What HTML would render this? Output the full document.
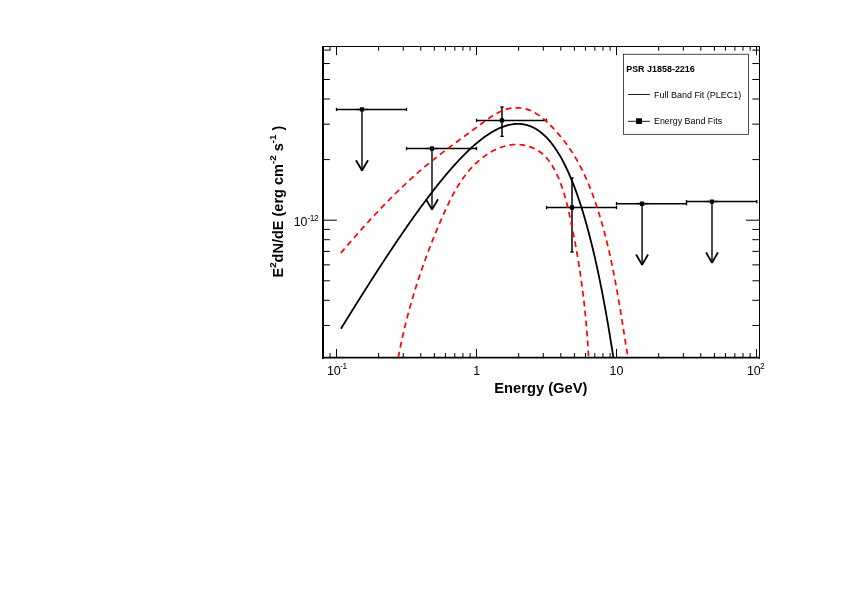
<!DOCTYPE html>
<html><head><meta charset="utf-8"><title>PSR J1858-2216</title>
<style>html,body{margin:0;padding:0;background:#fff}svg{display:block}text{font-family:"Liberation Sans",sans-serif;fill:#000}</style></head><body>
<svg width="842" height="595" viewBox="0 0 842 595">
<rect width="842" height="595" fill="#fff"/>
<defs><clipPath id="c"><rect x="324" y="47" width="435" height="310"/></clipPath></defs>
<g stroke="#000" fill="none" shape-rendering="crispEdges">
<line x1="322" y1="46.5" x2="760" y2="46.5" stroke-width="1"/>
<line x1="759.5" y1="46" x2="759.5" y2="358.6" stroke-width="1"/>
<line x1="323" y1="46" x2="323" y2="358.6" stroke-width="2"/>
</g>
<line x1="322" y1="357.7" x2="760" y2="357.7" stroke="#000" stroke-width="1.8"/>
<g stroke="#000" stroke-width="1" fill="none">
<line x1="330.06" y1="357" x2="330.06" y2="353"/>
<line x1="330.06" y1="47" x2="330.06" y2="50.7"/>
<line x1="336.47" y1="357" x2="336.47" y2="348.9"/>
<line x1="336.47" y1="47" x2="336.47" y2="55.2"/>
<line x1="378.62" y1="357" x2="378.62" y2="353"/>
<line x1="378.62" y1="47" x2="378.62" y2="50.7"/>
<line x1="403.28" y1="357" x2="403.28" y2="353"/>
<line x1="403.28" y1="47" x2="403.28" y2="50.7"/>
<line x1="420.78" y1="357" x2="420.78" y2="353"/>
<line x1="420.78" y1="47" x2="420.78" y2="50.7"/>
<line x1="434.35" y1="357" x2="434.35" y2="353"/>
<line x1="434.35" y1="47" x2="434.35" y2="50.7"/>
<line x1="445.43" y1="357" x2="445.43" y2="353"/>
<line x1="445.43" y1="47" x2="445.43" y2="50.7"/>
<line x1="454.81" y1="357" x2="454.81" y2="353"/>
<line x1="454.81" y1="47" x2="454.81" y2="50.7"/>
<line x1="462.93" y1="357" x2="462.93" y2="353"/>
<line x1="462.93" y1="47" x2="462.93" y2="50.7"/>
<line x1="470.09" y1="357" x2="470.09" y2="353"/>
<line x1="470.09" y1="47" x2="470.09" y2="50.7"/>
<line x1="476.50" y1="357" x2="476.50" y2="348.9"/>
<line x1="476.50" y1="47" x2="476.50" y2="55.2"/>
<line x1="518.65" y1="357" x2="518.65" y2="353"/>
<line x1="518.65" y1="47" x2="518.65" y2="50.7"/>
<line x1="543.31" y1="357" x2="543.31" y2="353"/>
<line x1="543.31" y1="47" x2="543.31" y2="50.7"/>
<line x1="560.81" y1="357" x2="560.81" y2="353"/>
<line x1="560.81" y1="47" x2="560.81" y2="50.7"/>
<line x1="574.38" y1="357" x2="574.38" y2="353"/>
<line x1="574.38" y1="47" x2="574.38" y2="50.7"/>
<line x1="585.46" y1="357" x2="585.46" y2="353"/>
<line x1="585.46" y1="47" x2="585.46" y2="50.7"/>
<line x1="594.84" y1="357" x2="594.84" y2="353"/>
<line x1="594.84" y1="47" x2="594.84" y2="50.7"/>
<line x1="602.96" y1="357" x2="602.96" y2="353"/>
<line x1="602.96" y1="47" x2="602.96" y2="50.7"/>
<line x1="610.12" y1="357" x2="610.12" y2="353"/>
<line x1="610.12" y1="47" x2="610.12" y2="50.7"/>
<line x1="616.53" y1="357" x2="616.53" y2="348.9"/>
<line x1="616.53" y1="47" x2="616.53" y2="55.2"/>
<line x1="658.68" y1="357" x2="658.68" y2="353"/>
<line x1="658.68" y1="47" x2="658.68" y2="50.7"/>
<line x1="683.34" y1="357" x2="683.34" y2="353"/>
<line x1="683.34" y1="47" x2="683.34" y2="50.7"/>
<line x1="700.84" y1="357" x2="700.84" y2="353"/>
<line x1="700.84" y1="47" x2="700.84" y2="50.7"/>
<line x1="714.41" y1="357" x2="714.41" y2="353"/>
<line x1="714.41" y1="47" x2="714.41" y2="50.7"/>
<line x1="725.49" y1="357" x2="725.49" y2="353"/>
<line x1="725.49" y1="47" x2="725.49" y2="50.7"/>
<line x1="734.87" y1="357" x2="734.87" y2="353"/>
<line x1="734.87" y1="47" x2="734.87" y2="50.7"/>
<line x1="742.99" y1="357" x2="742.99" y2="353"/>
<line x1="742.99" y1="47" x2="742.99" y2="50.7"/>
<line x1="750.15" y1="357" x2="750.15" y2="353"/>
<line x1="750.15" y1="47" x2="750.15" y2="50.7"/>
<line x1="756.56" y1="357" x2="756.56" y2="348.9"/>
<line x1="756.56" y1="47" x2="756.56" y2="55.2"/>
<line x1="324" y1="325.46" x2="329.9" y2="325.46"/>
<line x1="759" y1="325.46" x2="752.3" y2="325.46"/>
<line x1="324" y1="300.31" x2="329.9" y2="300.31"/>
<line x1="759" y1="300.31" x2="752.3" y2="300.31"/>
<line x1="324" y1="280.80" x2="329.9" y2="280.80"/>
<line x1="759" y1="280.80" x2="752.3" y2="280.80"/>
<line x1="324" y1="264.86" x2="329.9" y2="264.86"/>
<line x1="759" y1="264.86" x2="752.3" y2="264.86"/>
<line x1="324" y1="251.38" x2="329.9" y2="251.38"/>
<line x1="759" y1="251.38" x2="752.3" y2="251.38"/>
<line x1="324" y1="239.71" x2="329.9" y2="239.71"/>
<line x1="759" y1="239.71" x2="752.3" y2="239.71"/>
<line x1="324" y1="229.41" x2="329.9" y2="229.41"/>
<line x1="759" y1="229.41" x2="752.3" y2="229.41"/>
<line x1="324" y1="220.20" x2="336.8" y2="220.20"/>
<line x1="759" y1="220.20" x2="746" y2="220.20"/>
<line x1="324" y1="159.60" x2="329.9" y2="159.60"/>
<line x1="759" y1="159.60" x2="752.3" y2="159.60"/>
<line x1="324" y1="124.16" x2="329.9" y2="124.16"/>
<line x1="759" y1="124.16" x2="752.3" y2="124.16"/>
<line x1="324" y1="99.01" x2="329.9" y2="99.01"/>
<line x1="759" y1="99.01" x2="752.3" y2="99.01"/>
<line x1="324" y1="79.50" x2="329.9" y2="79.50"/>
<line x1="759" y1="79.50" x2="752.3" y2="79.50"/>
<line x1="324" y1="63.56" x2="329.9" y2="63.56"/>
<line x1="759" y1="63.56" x2="752.3" y2="63.56"/>
<line x1="324" y1="50.08" x2="329.9" y2="50.08"/>
<line x1="759" y1="50.08" x2="752.3" y2="50.08"/>
</g>
<g stroke="#000" fill="none">
<line x1="336.5" y1="109.4" x2="406.5" y2="109.4" stroke-width="1.5"/>
<line x1="336.5" y1="107.7" x2="336.5" y2="111.10000000000001" stroke-width="1.3"/>
<line x1="406.5" y1="107.7" x2="406.5" y2="111.10000000000001" stroke-width="1.3"/>
<line x1="356.0" y1="109.4" x2="368.0" y2="109.4" stroke-width="2.6" stroke-opacity="0.22"/>
<line x1="362.0" y1="109.4" x2="362.0" y2="170.8" stroke-width="1.4"/>
<path d="M356.0,160.20000000000002 L362.0,170.5 L368.0,160.20000000000002" stroke-width="1.8" stroke-linejoin="bevel"/>
<rect x="359.85" y="107.20" width="4.3" height="4.4" rx="0.7" fill="#000" stroke="none"/>
<line x1="406.5" y1="148.5" x2="476.5" y2="148.5" stroke-width="1.5"/>
<line x1="406.5" y1="146.8" x2="406.5" y2="150.2" stroke-width="1.3"/>
<line x1="476.5" y1="146.8" x2="476.5" y2="150.2" stroke-width="1.3"/>
<line x1="426.0" y1="148.5" x2="438.0" y2="148.5" stroke-width="2.6" stroke-opacity="0.22"/>
<line x1="432.0" y1="148.5" x2="432.0" y2="209.9" stroke-width="1.4"/>
<path d="M426.0,199.3 L432.0,209.6 L438.0,199.3" stroke-width="1.8" stroke-linejoin="bevel"/>
<rect x="429.85" y="146.30" width="4.3" height="4.4" rx="0.7" fill="#000" stroke="none"/>
<line x1="476.5" y1="120.4" x2="546.5" y2="120.4" stroke-width="1.5"/>
<line x1="476.5" y1="118.7" x2="476.5" y2="122.10000000000001" stroke-width="1.3"/>
<line x1="546.5" y1="118.7" x2="546.5" y2="122.10000000000001" stroke-width="1.3"/>
<line x1="502.0" y1="106.9" x2="502.0" y2="136.4" stroke-width="1.5"/>
<line x1="500.3" y1="106.9" x2="503.7" y2="106.9" stroke-width="1.3"/>
<line x1="500.3" y1="136.4" x2="503.7" y2="136.4" stroke-width="1.3"/>
<rect x="499.85" y="118.20" width="4.3" height="4.4" rx="0.7" fill="#000" stroke="none"/>
<line x1="546.5" y1="207.5" x2="616.5" y2="207.5" stroke-width="1.5"/>
<line x1="546.5" y1="205.8" x2="546.5" y2="209.2" stroke-width="1.3"/>
<line x1="616.5" y1="205.8" x2="616.5" y2="209.2" stroke-width="1.3"/>
<line x1="572.0" y1="177.9" x2="572.0" y2="252.0" stroke-width="1.5"/>
<line x1="570.3" y1="177.9" x2="573.7" y2="177.9" stroke-width="1.3"/>
<line x1="570.3" y1="252.0" x2="573.7" y2="252.0" stroke-width="1.3"/>
<rect x="569.85" y="205.30" width="4.3" height="4.4" rx="0.7" fill="#000" stroke="none"/>
<line x1="616.5" y1="203.7" x2="686.5" y2="203.7" stroke-width="1.5"/>
<line x1="616.5" y1="202.0" x2="616.5" y2="205.39999999999998" stroke-width="1.3"/>
<line x1="686.5" y1="202.0" x2="686.5" y2="205.39999999999998" stroke-width="1.3"/>
<line x1="636.1" y1="203.7" x2="648.1" y2="203.7" stroke-width="2.6" stroke-opacity="0.22"/>
<line x1="642.1" y1="203.7" x2="642.1" y2="265.09999999999997" stroke-width="1.4"/>
<path d="M636.1,254.49999999999997 L642.1,264.79999999999995 L648.1,254.49999999999997" stroke-width="1.8" stroke-linejoin="bevel"/>
<rect x="639.95" y="201.50" width="4.3" height="4.4" rx="0.7" fill="#000" stroke="none"/>
<line x1="686.5" y1="201.6" x2="756.8" y2="201.6" stroke-width="1.5"/>
<line x1="686.5" y1="199.9" x2="686.5" y2="203.29999999999998" stroke-width="1.3"/>
<line x1="756.8" y1="199.9" x2="756.8" y2="203.29999999999998" stroke-width="1.3"/>
<line x1="706.0" y1="201.6" x2="718.0" y2="201.6" stroke-width="2.6" stroke-opacity="0.22"/>
<line x1="712.0" y1="201.6" x2="712.0" y2="263.0" stroke-width="1.4"/>
<path d="M706.0,252.4 L712.0,262.7 L718.0,252.4" stroke-width="1.8" stroke-linejoin="bevel"/>
<rect x="709.85" y="199.40" width="4.3" height="4.4" rx="0.7" fill="#000" stroke="none"/>
</g>
<g clip-path="url(#c)" fill="none">
<path d="M340.92,328.72 L341.67,327.51 L342.41,326.31 L343.15,325.11 L343.89,323.91 L344.63,322.71 L345.38,321.51 L346.12,320.31 L346.86,319.12 L347.60,317.92 L348.34,316.72 L349.09,315.53 L349.83,314.34 L350.57,313.14 L351.31,311.95 L352.06,310.76 L352.80,309.57 L353.54,308.39 L354.28,307.20 L355.02,306.01 L355.77,304.83 L356.51,303.64 L357.25,302.46 L357.99,301.28 L358.73,300.10 L359.48,298.92 L360.22,297.74 L360.96,296.56 L361.70,295.39 L362.44,294.21 L363.19,293.04 L363.93,291.87 L364.67,290.70 L365.41,289.53 L366.15,288.36 L366.90,287.19 L367.64,286.03 L368.38,284.86 L369.12,283.70 L369.86,282.54 L370.61,281.38 L371.35,280.22 L372.09,279.06 L372.83,277.90 L373.57,276.75 L374.32,275.59 L375.06,274.44 L375.80,273.29 L376.54,272.14 L377.28,270.99 L378.03,269.85 L378.77,268.70 L379.51,267.56 L380.25,266.42 L380.99,265.28 L381.74,264.14 L382.48,263.01 L383.22,261.87 L383.96,260.74 L384.70,259.61 L385.45,258.48 L386.19,257.35 L386.93,256.22 L387.67,255.10 L388.41,253.98 L389.16,252.86 L389.90,251.74 L390.64,250.62 L391.38,249.51 L392.12,248.39 L392.87,247.28 L393.61,246.17 L394.35,245.07 L395.09,243.96 L395.83,242.86 L396.58,241.76 L397.32,240.66 L398.06,239.56 L398.80,238.47 L399.54,237.38 L400.29,236.29 L401.03,235.20 L401.77,234.11 L402.51,233.03 L403.25,231.95 L404.00,230.87 L404.74,229.80 L405.48,228.72 L406.22,227.65 L406.96,226.58 L407.71,225.52 L408.45,224.45 L409.19,223.39 L409.93,222.33 L410.67,221.28 L411.42,220.22 L412.16,219.17 L412.90,218.13 L413.64,217.08 L414.39,216.04 L415.13,215.00 L415.87,213.96 L416.61,212.93 L417.35,211.90 L418.10,210.87 L418.84,209.85 L419.58,208.83 L420.32,207.81 L421.06,206.79 L421.81,205.78 L422.55,204.77 L423.29,203.76 L424.03,202.76 L424.77,201.76 L425.52,200.77 L426.26,199.78 L427.00,198.79 L427.74,197.80 L428.48,196.82 L429.23,195.84 L429.97,194.87 L430.71,193.90 L431.45,192.93 L432.19,191.96 L432.94,191.00 L433.68,190.05 L434.42,189.10 L435.16,188.15 L435.90,187.20 L436.65,186.26 L437.39,185.33 L438.13,184.40 L438.87,183.47 L439.61,182.55 L440.36,181.63 L441.10,180.71 L441.84,179.80 L442.58,178.90 L443.32,177.99 L444.07,177.10 L444.81,176.20 L445.55,175.32 L446.29,174.43 L447.03,173.56 L447.78,172.68 L448.52,171.82 L449.26,170.95 L450.00,170.09 L450.74,169.24 L451.49,168.39 L452.23,167.55 L452.97,166.71 L453.71,165.88 L454.45,165.05 L455.20,164.23 L455.94,163.42 L456.68,162.61 L457.42,161.80 L458.16,161.00 L458.91,160.21 L459.65,159.42 L460.39,158.64 L461.13,157.87 L461.87,157.10 L462.62,156.34 L463.36,155.58 L464.10,154.83 L464.84,154.09 L465.58,153.35 L466.33,152.62 L467.07,151.89 L467.81,151.18 L468.55,150.47 L469.29,149.76 L470.04,149.07 L470.78,148.38 L471.52,147.69 L472.26,147.02 L473.00,146.35 L473.75,145.69 L474.49,145.04 L475.23,144.39 L475.97,143.76 L476.72,143.13 L477.46,142.51 L478.20,141.89 L478.94,141.29 L479.68,140.69 L480.43,140.10 L481.17,139.52 L481.91,138.95 L482.65,138.38 L483.39,137.83 L484.14,137.28 L484.88,136.75 L485.62,136.22 L486.36,135.70 L487.10,135.19 L487.85,134.69 L488.59,134.20 L489.33,133.72 L490.07,133.25 L490.81,132.78 L491.56,132.33 L492.30,131.89 L493.04,131.46 L493.78,131.04 L494.52,130.63 L495.27,130.23 L496.01,129.84 L496.75,129.46 L497.49,129.09 L498.23,128.74 L498.98,128.39 L499.72,128.06 L500.46,127.73 L501.20,127.42 L501.94,127.13 L502.69,126.84 L503.43,126.56 L504.17,126.30 L504.91,126.05 L505.65,125.81 L506.40,125.59 L507.14,125.38 L507.88,125.18 L508.62,124.99 L509.36,124.82 L510.11,124.66 L510.85,124.52 L511.59,124.39 L512.33,124.27 L513.07,124.17 L513.82,124.08 L514.56,124.00 L515.30,123.94 L516.04,123.90 L516.78,123.87 L517.53,123.86 L518.27,123.86 L519.01,123.87 L519.75,123.91 L520.49,123.96 L521.24,124.02 L521.98,124.10 L522.72,124.20 L523.46,124.31 L524.20,124.45 L524.95,124.60 L525.69,124.76 L526.43,124.95 L527.17,125.15 L527.91,125.37 L528.66,125.61 L529.40,125.87 L530.14,126.14 L530.88,126.44 L531.62,126.75 L532.37,127.08 L533.11,127.44 L533.85,127.81 L534.59,128.21 L535.34,128.62 L536.08,129.05 L536.82,129.51 L537.56,129.99 L538.30,130.49 L539.05,131.01 L539.79,131.55 L540.53,132.11 L541.27,132.70 L542.01,133.31 L542.76,133.94 L543.50,134.60 L544.24,135.28 L544.98,135.98 L545.72,136.71 L546.47,137.47 L547.21,138.24 L547.95,139.05 L548.69,139.87 L549.43,140.73 L550.18,141.61 L550.92,142.52 L551.66,143.45 L552.40,144.41 L553.14,145.40 L553.89,146.41 L554.63,147.46 L555.37,148.53 L556.11,149.63 L556.85,150.76 L557.60,151.92 L558.34,153.11 L559.08,154.33 L559.82,155.58 L560.56,156.86 L561.31,158.18 L562.05,159.52 L562.79,160.90 L563.53,162.31 L564.27,163.75 L565.02,165.23 L565.76,166.74 L566.50,168.28 L567.24,169.86 L567.98,171.47 L568.73,173.12 L569.47,174.80 L570.21,176.52 L570.95,178.28 L571.69,180.08 L572.44,181.91 L573.18,183.78 L573.92,185.69 L574.66,187.64 L575.40,189.62 L576.15,191.65 L576.89,193.72 L577.63,195.83 L578.37,197.98 L579.11,200.17 L579.86,202.41 L580.60,204.68 L581.34,207.01 L582.08,209.37 L582.82,211.78 L583.57,214.24 L584.31,216.74 L585.05,219.29 L585.79,221.88 L586.53,224.53 L587.28,227.22 L588.02,229.96 L588.76,232.74 L589.50,235.58 L590.24,238.47 L590.99,241.41 L591.73,244.40 L592.47,247.45 L593.21,250.54 L593.95,253.69 L594.70,256.90 L595.44,260.16 L596.18,263.48 L596.92,266.85 L597.67,270.28 L598.41,273.76 L599.15,277.31 L599.89,280.91 L600.63,284.58 L601.38,288.30 L602.12,292.09 L602.86,295.93 L603.60,299.85 L604.34,303.82 L605.09,307.86 L605.83,311.96 L606.57,316.13 L607.31,320.37 L608.05,324.68 L608.80,329.05 L609.54,333.49 L610.28,338.00 L611.02,342.59 L611.76,347.24 L612.51,351.97 L613.25,356.77 L613.99,361.65 L614.73,366.60 L615.47,371.63 L616.22,376.74 L616.96,381.92 L617.70,387.18 L618.44,392.53 L619.18,397.95 L619.93,403.46 L620.67,409.05 L621.41,414.72 L622.15,420.48 L622.89,426.33 L623.64,432.26 L624.38,438.29 L625.12,444.40" stroke="#000" stroke-width="1.8"/>
<path d="M340.86,252.97 L341.98,251.66 L343.11,250.35 L344.23,249.04 L345.36,247.74 L346.49,246.43 L347.62,245.12 L348.76,243.82 L349.89,242.51 L351.03,241.20 L352.17,239.90 L353.32,238.59 L354.46,237.29 L355.61,235.98 L356.76,234.68 L357.92,233.38 L359.07,232.08 L360.23,230.78 L361.39,229.48 L362.56,228.18 L363.72,226.89 L364.89,225.59 L366.06,224.30 L367.24,223.01 L368.41,221.72 L369.59,220.43 L370.78,219.15 L371.96,217.86 L373.15,216.58 L374.34,215.30 L375.53,214.03 L376.73,212.75 L377.93,211.48 L379.13,210.21 L380.34,208.94 L381.54,207.68 L382.76,206.42 L383.97,205.16 L385.19,203.91 L386.41,202.65 L387.63,201.40 L388.86,200.16 L390.09,198.92 L391.32,197.68 L392.55,196.44 L393.79,195.21 L395.03,193.98 L396.28,192.76 L397.53,191.54 L398.78,190.32 L400.04,189.11 L401.29,187.90 L402.56,186.70 L403.82,185.50 L405.09,184.30 L406.36,183.11 L407.64,181.93 L408.92,180.75 L410.20,179.57 L411.48,178.40 L412.77,177.23 L414.07,176.07 L415.36,174.91 L416.66,173.76 L417.97,172.62 L419.27,171.48 L420.59,170.34 L421.90,169.21 L423.22,168.09 L424.54,166.97 L425.87,165.86 L427.20,164.75 L428.53,163.65 L429.87,162.56 L431.21,161.47 L432.55,160.39 L433.90,159.31 L435.25,158.23 L436.61,157.16 L437.97,156.10 L439.33,155.04 L440.69,153.98 L442.06,152.93 L443.43,151.88 L444.81,150.83 L446.18,149.78 L447.56,148.74 L448.95,147.70 L450.33,146.66 L451.72,145.62 L453.11,144.59 L454.51,143.55 L455.90,142.52 L457.30,141.49 L458.70,140.46 L460.11,139.42 L461.51,138.39 L462.92,137.36 L464.33,136.32 L465.74,135.29 L467.15,134.25 L468.57,133.22 L469.99,132.18 L471.41,131.14 L472.83,130.10 L474.25,129.05 L475.68,128.00 L477.10,126.95 L478.53,125.90 L479.96,124.84 L481.39,123.78 L482.82,122.72 L484.26,121.66 L485.70,120.60 L487.14,119.56 L488.59,118.54 L490.05,117.53 L491.52,116.55 L493.00,115.60 L494.48,114.69 L495.99,113.81 L497.50,112.97 L499.03,112.18 L500.57,111.45 L502.13,110.76 L503.71,110.14 L505.31,109.58 L506.92,109.09 L508.56,108.67 L510.22,108.34 L511.90,108.08 L513.60,107.90 L515.31,107.80 L517.02,107.78 L518.74,107.85 L520.45,107.99 L522.15,108.21 L523.84,108.52 L525.51,108.90 L527.16,109.37 L528.77,109.91 L530.36,110.53 L531.92,111.22 L533.45,111.98 L534.95,112.80 L536.43,113.68 L537.89,114.62 L539.32,115.61 L540.73,116.65 L542.12,117.73 L543.48,118.85 L544.83,120.00 L546.15,121.19 L547.46,122.40 L548.74,123.64 L550.01,124.90 L551.26,126.17 L552.50,127.46 L553.72,128.75 L554.92,130.05 L556.11,131.36 L557.28,132.68 L558.44,134.01 L559.58,135.35 L560.71,136.70 L561.82,138.06 L562.91,139.42 L563.99,140.80 L565.05,142.18 L566.10,143.58 L567.13,144.98 L568.14,146.39 L569.14,147.81 L570.12,149.25 L571.09,150.69 L572.04,152.14 L572.97,153.60 L573.89,155.07 L574.79,156.54 L575.68,158.03 L576.55,159.53 L577.41,161.03 L578.25,162.54 L579.08,164.06 L579.90,165.59 L580.70,167.12 L581.48,168.67 L582.26,170.21 L583.02,171.77 L583.77,173.33 L584.51,174.90 L585.23,176.48 L585.95,178.06 L586.65,179.65 L587.34,181.24 L588.02,182.84 L588.68,184.44 L589.34,186.05 L589.99,187.66 L590.63,189.28 L591.25,190.90 L591.87,192.53 L592.48,194.16 L593.08,195.79 L593.67,197.43 L594.25,199.07 L594.83,200.71 L595.40,202.36 L595.95,204.01 L596.51,205.66 L597.05,207.31 L597.59,208.97 L598.12,210.63 L598.64,212.29 L599.16,213.95 L599.67,215.61 L600.17,217.28 L600.67,218.95 L601.16,220.62 L601.64,222.29 L602.12,223.96 L602.59,225.64 L603.06,227.31 L603.52,228.99 L603.97,230.67 L604.42,232.35 L604.86,234.04 L605.30,235.72 L605.73,237.41 L606.16,239.10 L606.58,240.79 L607.00,242.48 L607.41,244.17 L607.81,245.86 L608.22,247.56 L608.61,249.25 L609.00,250.95 L609.39,252.65 L609.77,254.35 L610.15,256.05 L610.53,257.75 L610.90,259.45 L611.26,261.16 L611.62,262.86 L611.98,264.57 L612.33,266.28 L612.68,267.98 L613.03,269.69 L613.37,271.40 L613.71,273.11 L614.05,274.82 L614.38,276.54 L614.71,278.25 L615.03,279.96 L615.35,281.68 L615.67,283.39 L615.99,285.11 L616.30,286.82 L616.62,288.54 L616.92,290.26 L617.23,291.97 L617.53,293.69 L617.84,295.41 L618.14,297.13 L618.43,298.85 L618.73,300.56 L619.02,302.28 L619.31,304.00 L619.60,305.72 L619.89,307.44 L620.17,309.16 L620.46,310.88 L620.74,312.60 L621.02,314.32 L621.31,316.04 L621.58,317.76 L621.86,319.48 L622.14,321.20 L622.42,322.92 L622.69,324.64 L622.97,326.36 L623.24,328.08 L623.52,329.79 L623.79,331.51 L624.06,333.23 L624.34,334.95 L624.61,336.66 L624.88,338.38 L625.16,340.10 L625.43,341.81 L625.70,343.53 L625.98,345.24 L626.25,346.95 L626.53,348.67 L626.80,350.38 L627.08,352.09 L627.36,353.80 L627.63,355.51 L627.91,357.22 L628.19,358.93" stroke="#f00" stroke-width="1.7" stroke-dasharray="5.8 4.2"/>
<path d="M398.32,357.41 L398.63,355.75 L398.95,354.10 L399.27,352.45 L399.59,350.80 L399.92,349.16 L400.25,347.51 L400.59,345.87 L400.93,344.23 L401.28,342.60 L401.63,340.96 L401.98,339.33 L402.34,337.69 L402.71,336.06 L403.08,334.44 L403.45,332.81 L403.83,331.18 L404.21,329.56 L404.59,327.94 L404.99,326.32 L405.38,324.71 L405.78,323.09 L406.18,321.48 L406.59,319.86 L407.00,318.25 L407.42,316.65 L407.84,315.04 L408.26,313.43 L408.69,311.83 L409.12,310.23 L409.56,308.63 L410.00,307.03 L410.45,305.43 L410.90,303.84 L411.35,302.24 L411.81,300.65 L412.27,299.06 L412.74,297.47 L413.21,295.88 L413.69,294.30 L414.17,292.71 L414.65,291.13 L415.14,289.55 L415.63,287.97 L416.12,286.39 L416.62,284.81 L417.13,283.23 L417.64,281.66 L418.15,280.08 L418.66,278.51 L419.18,276.94 L419.71,275.37 L420.24,273.80 L420.77,272.23 L421.31,270.67 L421.85,269.10 L422.39,267.54 L422.94,265.97 L423.49,264.41 L424.05,262.85 L424.61,261.29 L425.17,259.73 L425.74,258.18 L426.31,256.62 L426.89,255.07 L427.47,253.51 L428.05,251.96 L428.64,250.41 L429.23,248.86 L429.83,247.31 L430.43,245.76 L431.03,244.21 L431.64,242.66 L432.25,241.11 L432.87,239.57 L433.49,238.02 L434.11,236.48 L434.74,234.94 L435.37,233.39 L436.00,231.85 L436.64,230.31 L437.28,228.77 L437.93,227.23 L438.58,225.69 L439.23,224.16 L439.89,222.62 L440.55,221.08 L441.22,219.55 L441.89,218.01 L442.56,216.48 L443.24,214.94 L443.92,213.41 L444.60,211.88 L445.29,210.35 L445.99,208.83 L446.70,207.31 L447.41,205.79 L448.13,204.28 L448.86,202.77 L449.59,201.26 L450.34,199.77 L451.09,198.27 L451.86,196.79 L452.64,195.31 L453.43,193.84 L454.23,192.38 L455.04,190.93 L455.86,189.49 L456.70,188.06 L457.56,186.63 L458.42,185.22 L459.31,183.82 L460.20,182.43 L461.12,181.06 L462.05,179.69 L463.00,178.34 L463.96,177.00 L464.95,175.68 L465.95,174.37 L466.97,173.08 L468.01,171.80 L469.07,170.54 L470.16,169.30 L471.26,168.07 L472.39,166.86 L473.54,165.67 L474.71,164.50 L475.90,163.34 L477.12,162.21 L478.36,161.10 L479.63,160.00 L480.92,158.93 L482.24,157.88 L483.58,156.86 L484.95,155.86 L486.34,154.89 L487.74,153.96 L489.17,153.05 L490.62,152.18 L492.09,151.35 L493.57,150.55 L495.07,149.80 L496.59,149.08 L498.12,148.41 L499.66,147.79 L501.22,147.21 L502.79,146.69 L504.37,146.21 L505.97,145.79 L507.57,145.43 L509.18,145.12 L510.80,144.87 L512.42,144.68 L514.05,144.56 L515.69,144.50 L517.33,144.51 L518.97,144.59 L520.61,144.73 L522.25,144.93 L523.87,145.20 L525.49,145.54 L527.09,145.93 L528.68,146.39 L530.24,146.92 L531.79,147.50 L533.31,148.14 L534.80,148.85 L536.25,149.61 L537.68,150.43 L539.06,151.31 L540.41,152.25 L541.71,153.24 L542.96,154.29 L544.17,155.40 L545.32,156.56 L546.44,157.76 L547.50,159.01 L548.53,160.30 L549.51,161.63 L550.46,162.99 L551.38,164.38 L552.25,165.80 L553.10,167.24 L553.92,168.69 L554.71,170.16 L555.48,171.65 L556.22,173.14 L556.94,174.64 L557.64,176.15 L558.31,177.67 L558.97,179.20 L559.60,180.74 L560.21,182.29 L560.80,183.84 L561.38,185.40 L561.94,186.97 L562.48,188.54 L563.00,190.13 L563.51,191.71 L564.00,193.30 L564.48,194.90 L564.94,196.50 L565.40,198.11 L565.84,199.72 L566.27,201.34 L566.68,202.96 L567.09,204.58 L567.49,206.20 L567.88,207.83 L568.27,209.46 L568.64,211.09 L569.01,212.72 L569.38,214.36 L569.73,215.99 L570.09,217.62 L570.44,219.26 L570.79,220.89 L571.13,222.53 L571.47,224.16 L571.81,225.80 L572.15,227.43 L572.48,229.06 L572.81,230.70 L573.13,232.33 L573.45,233.96 L573.77,235.60 L574.09,237.23 L574.40,238.87 L574.71,240.50 L575.01,242.13 L575.32,243.77 L575.61,245.40 L575.91,247.04 L576.20,248.67 L576.49,250.30 L576.78,251.94 L577.06,253.57 L577.34,255.21 L577.62,256.84 L577.89,258.48 L578.16,260.12 L578.43,261.75 L578.69,263.39 L578.95,265.02 L579.21,266.66 L579.47,268.30 L579.72,269.94 L579.97,271.57 L580.21,273.21 L580.45,274.85 L580.69,276.49 L580.93,278.13 L581.16,279.77 L581.39,281.41 L581.62,283.05 L581.84,284.69 L582.06,286.33 L582.27,287.97 L582.49,289.62 L582.70,291.26 L582.91,292.90 L583.11,294.55 L583.31,296.19 L583.51,297.84 L583.70,299.48 L583.90,301.13 L584.08,302.78 L584.27,304.42 L584.45,306.07 L584.63,307.72 L584.81,309.37 L584.98,311.02 L585.15,312.67 L585.32,314.32 L585.48,315.98 L585.64,317.63 L585.80,319.29 L585.96,320.94 L586.11,322.60 L586.26,324.25 L586.40,325.91 L586.55,327.57 L586.69,329.23 L586.82,330.89 L586.96,332.55 L587.09,334.21 L587.21,335.87 L587.34,337.54 L587.46,339.20 L587.58,340.87 L587.69,342.54 L587.81,344.20 L587.92,345.87 L588.02,347.54 L588.13,349.21 L588.23,350.89 L588.32,352.56 L588.42,354.23 L588.51,355.91 L588.60,357.58" stroke="#f00" stroke-width="1.7" stroke-dasharray="5.8 4.2"/>
</g>
<rect x="623.6" y="54.2" width="125" height="80.1" fill="#fff" stroke="#000" stroke-width="0.7"/>
<text x="626.2" y="71.7" font-size="8.95" font-weight="bold">PSR J1858-2216</text>
<line x1="628.1" y1="94.5" x2="649.9" y2="94.5" stroke="#000" stroke-width="0.9"/>
<text x="654" y="97.9" font-size="8.97">Full Band Fit (PLEC1)</text>
<line x1="628.1" y1="121.3" x2="649.9" y2="121.3" stroke="#000" stroke-width="0.9"/>
<rect x="636.1" y="118.3" width="5.9" height="5.7" fill="#000"/>
<text x="654" y="123.8" font-size="8.9">Energy Band Fits</text>
<text x="326.9" y="374.9" font-size="12.4" text-anchor="start">10<tspan font-size="8.4" dy="-6.1" dx="-0.6" letter-spacing="-0.45">-1</tspan></text>
<text x="473.3" y="374.9" font-size="12.4" text-anchor="start">1</text>
<text x="609.5" y="374.9" font-size="12.4" text-anchor="start">10</text>
<text x="746.9" y="374.9" font-size="12.4" text-anchor="start">10<tspan font-size="8.4" dy="-6.1" dx="-0.6" letter-spacing="-0.45">2</tspan></text>
<text x="293.7" y="226.0" font-size="12.4" text-anchor="start">10<tspan font-size="8.4" dy="-5.4" dx="0" letter-spacing="-0.45">-12</tspan></text>
<text x="494.3" y="392.6" font-size="14.7" font-weight="bold">Energy (GeV)</text>
<text transform="translate(282.8,277.5) rotate(-90)" font-size="14.5" font-weight="bold">E<tspan font-size="9.8" dy="-7.2">2</tspan><tspan dy="7.2">dN/dE (erg cm</tspan><tspan font-size="9.8" dy="-7.2">-2</tspan><tspan dy="7.2"> s</tspan><tspan font-size="9.8" dy="-7.2">-1</tspan><tspan dy="7.2"> )</tspan></text>
</svg></body></html>
